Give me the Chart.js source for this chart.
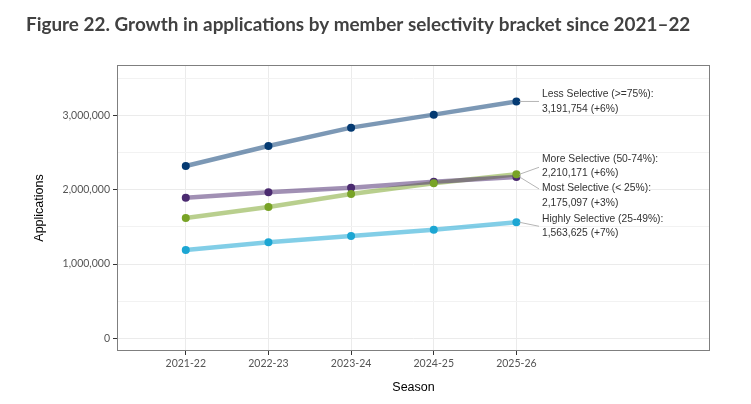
<!DOCTYPE html>
<html>
<head>
<meta charset="utf-8">
<script src="https://cdn.jsdelivr.net/npm/chart.js@4/dist/chart.umd.min.js"></script>
<style>
  html, body { margin: 0; padding: 0; background: #fff; }
  #wrap { width: 751px; height: 404px; position: relative; }
</style>
</head>
<body>
<div id="wrap"><canvas id="c" width="751" height="404"></canvas></div>
<script>
// ---- data ----
const seasons = ["2021-22", "2022-23", "2023-24", "2024-25", "2025-26"];
const seriesNames = ["Less Selective (>=75%)", "More Selective (50-74%)", "Most Selective (< 25%)", "Highly Selective (25-49%)"];
const lessSelective    = [2322000, 2592000, 2839000, 3014000, 3191754];
const moreSelective    = [1621000, 1770000, 1945000, 2090000, 2210171];
const mostSelective    = [1895000, 1968000, 2030000, 2110000, 2175097];
const highlySelective  = [1190000, 1294000, 1379000, 1462000, 1563625];
const labelChangePct   = [6, 6, 3, 7];
const yTickValues      = [0, 1000000, 2000000, 3000000];

const title = "Figure 22. Growth in applications by member selectivity bracket since 2021\u201322";
const xTitle = "Season";
const yTitle = "Applications";

// ---- styles ----
const pointColors = ["#043a72", "#78a326", "#4b2b70", "#1ca6d3"];
const lineColors  = ["rgba(4,58,114,0.52)", "rgba(120,163,38,0.52)", "rgba(75,43,112,0.52)", "rgba(28,166,211,0.55)"];
const seriesValues = [lessSelective, moreSelective, mostSelective, highlySelective];

const toXY = arr => arr.map((v, i) => ({ x: i, y: v }));

const datasets = [];
// lines first (all), then points on top, like ggplot layers
seriesValues.forEach((vals, k) => {
  datasets.push({
    label: seriesNames[k] + " line",
    data: toXY(vals),
    borderColor: lineColors[k],
    borderWidth: 4.5,
    pointRadius: 0,
    fill: false,
    tension: 0,
    order: 10 - k
  });
});
seriesValues.forEach((vals, k) => {
  datasets.push({
    label: seriesNames[k],
    data: toXY(vals),
    showLine: false,
    pointRadius: 4,
    pointBorderWidth: 0,
    pointBackgroundColor: pointColors[k],
    borderColor: pointColors[k],
    order: 1
  });
});

const fmt = n => n.toLocaleString("en-US");

const CHART_L = 118, CHART_R = 709, CHART_T = 65, CHART_B = 351;

const deco = {
  id: "deco",
  beforeDatasetsDraw(chart) {
    const ctx = chart.ctx, a = chart.chartArea;
    ctx.save();
    ctx.strokeStyle = "#7f7f7f";
    ctx.lineWidth = 1;
    ctx.strokeRect(Math.round(a.left) - 0.5, Math.round(a.top) + 0.5, Math.round(a.right - a.left) + 1, Math.round(a.bottom - a.top) - 1);
    ctx.restore();
  },
  afterDraw(chart) {
    const ctx = chart.ctx, a = chart.chartArea;
    const xs = chart.scales.x, ys = chart.scales.y;
    ctx.save();
    // title
    ctx.fillStyle = "#414141";
    ctx.font = "bold 18.9px Lato";
    ctx.textBaseline = "alphabetic";
    ctx.textAlign = "left";
    ctx.fillText(title, 26, 31);
    // axis titles
    ctx.fillStyle = "#000";
    ctx.font = "12.5px 'Liberation Sans'";
    ctx.textAlign = "center";
    ctx.textBaseline = "middle";
    ctx.fillText(xTitle, (a.left + a.right) / 2, 388);
    ctx.save();
    ctx.translate(40, (a.top + a.bottom) / 2);
    ctx.rotate(-Math.PI / 2);
    ctx.fillText(yTitle, 0, 0);
    ctx.restore();

    // end labels with connectors
    const nudges = [0, -8, 19, 4];
    const segEnds = [0, 1, -7, 0];
    const lx = 542;
    ctx.font = "10.3px 'Liberation Sans'";
    ctx.textAlign = "left";
    ctx.textBaseline = "middle";
    seriesValues.forEach((vals, k) => {
      const last = vals.length - 1;
      const px = xs.getPixelForValue(last);
      const py = ys.getPixelForValue(vals[last]);
      const cy = py + nudges[k];
      ctx.strokeStyle = "#b5b5b5";
      ctx.lineWidth = 1;
      ctx.beginPath();
      ctx.moveTo(px + 3, py);
      ctx.lineTo(lx - 3, cy + segEnds[k]);
      ctx.stroke();
      ctx.fillStyle = "#333";
      ctx.fillText(seriesNames[k] + ":", lx, cy - 7.3);
      ctx.fillText(fmt(vals[last]) + " (+" + labelChangePct[k] + "%)", lx, cy + 7.3);
    });
    ctx.restore();
  }
};

new Chart(document.getElementById("c"), {
  type: "line",
  data: { datasets },
  options: {
    responsive: false,
    animation: false,
    devicePixelRatio: 1,
    layout: { padding: { top: CHART_T, right: 751 - CHART_R, left: 0, bottom: 0 } },
    plugins: { legend: { display: false }, tooltip: { enabled: false }, title: { display: false } },
    scales: {
      x: {
        type: "linear",
        min: -0.82,
        max: 6.33,
        afterBuildTicks(scale) { scale.ticks = seasons.map((s, i) => ({ value: i })); },
        afterFit(scale) { scale.height = 404 - CHART_B; },
        ticks: {
          callback: v => seasons[v] !== undefined ? seasons[v] : "",
          color: "#555",
          font: { family: "Lato", size: 10.5 },
          padding: 2,
          maxRotation: 0,
          autoSkip: false
        },
        grid: { color: "#ebebeb", lineWidth: 1, tickLength: 4, tickColor: "#333" },
        border: { display: false }
      },
      y: {
        type: "linear",
        min: -171000,
        max: 3683000,
        afterBuildTicks(scale) {
          const t = [];
          for (let v = 0; v <= 3500000; v += 500000) t.push({ value: v });
          scale.ticks = t;
        },
        afterFit(scale) { scale.width = CHART_L; },
        ticks: {
          callback: v => yTickValues.includes(v) ? fmt(v) : "",
          color: "#555",
          font: { family: "Lato", size: 10.5 },
          padding: 3,
          autoSkip: false
        },
        grid: {
          color: ctx => (ctx.tick && yTickValues.includes(ctx.tick.value)) ? "#ebebeb" : "#f2f2f2",
          lineWidth: 1,
          tickLength: 5,
          tickColor: ctx => (ctx.tick && yTickValues.includes(ctx.tick.value)) ? "#333" : "rgba(0,0,0,0)"
        },
        border: { display: false }
      }
    }
  },
  plugins: [deco]
});
</script>
</body>
</html>
